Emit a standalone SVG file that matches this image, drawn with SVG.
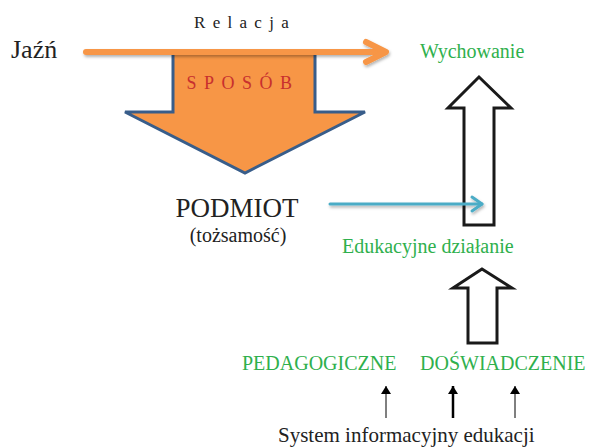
<svg xmlns="http://www.w3.org/2000/svg" width="593" height="448" viewBox="0 0 593 448">
  <defs>
    <filter id="sh" x="-10%" y="-50%" width="120%" height="200%">
      <feDropShadow dx="1" dy="2" stdDeviation="1.5" flood-color="#000" flood-opacity="0.3"/>
    </filter>
    <marker id="ah" viewBox="0 0 8 10" refX="8" refY="5" markerWidth="8" markerHeight="10" markerUnits="userSpaceOnUse" orient="auto">
      <path d="M0,0 L8,5 L0,10 Z" fill="#000"/>
    </marker>
  </defs>
  <style>
    text { font-family: "Liberation Serif", "Times New Roman", serif; }
    .blk { fill: #222; }
    .grn { fill: #2fb04d; }
    .hollow { fill: #fff; stroke: #1a1a1a; stroke-width: 3; stroke-linejoin: miter; }
  </style>
  <rect width="593" height="448" fill="#fff"/>

  <g id="sposob">
    <polygon points="173,52 173,112 125,112 245,173 365,112 315,112 315,52" fill="#f79646" stroke="#385d8a" stroke-width="3"/>
    <text x="243" y="89" text-anchor="middle" font-size="18" letter-spacing="7.5" fill="#c8302e">SPOSÓB</text>
  </g>

  <g id="jazn">
    <text x="11" y="58" font-size="26" class="blk">Jaźń</text>
  </g>
  <g id="relacja">
    <text x="194" y="28" font-size="17" letter-spacing="7.3" class="blk">Relacja</text>
  </g>
  <g id="wychowanie">
    <text x="420" y="58" font-size="20" class="grn">Wychowanie</text>
  </g>
  <g id="podmiot">
    <text x="237" y="217" text-anchor="middle" font-size="27" class="blk">PODMIOT</text>
    <text x="238" y="242" text-anchor="middle" font-size="20" class="blk">(tożsamość)</text>
  </g>
  <g id="edukacyjne">
    <text x="342" y="253" font-size="20" class="grn">Edukacyjne działanie</text>
  </g>
  <g id="pedagogiczne">
    <text x="242" y="370" font-size="20" class="grn">PEDAGOGICZNE</text>
  </g>
  <g id="doswiadczenie">
    <text x="420" y="370" font-size="20" class="grn">DOŚWIADCZENIE</text>
  </g>
  <g id="system">
    <text x="278" y="442" font-size="21" class="blk">System informacyjny edukacji</text>
  </g>

  <g id="connectors">
    <g filter="url(#sh)" fill="none" stroke-linecap="round" stroke-linejoin="round">
      <line x1="86" y1="52" x2="384" y2="52" stroke="#f79646" stroke-width="6"/>
      <polyline points="366,42 386,52 366,62" stroke="#f79646" stroke-width="6"/>
    </g>
    <polygon class="hollow" points="479,77 448,108 464,108 464,225 494,225 494,108 511,108"/>
    <g filter="url(#sh)" fill="none" stroke="#4bacc6" stroke-width="3" stroke-linecap="round" stroke-linejoin="round">
      <line x1="330" y1="204" x2="482" y2="204"/>
      <polyline points="472,197 482,204 472,211"/>
    </g>
    <polygon class="hollow" points="482,269 453,288 468,288 468,343 497,343 497,288 512,288"/>
    <line x1="386" y1="418" x2="386" y2="386" stroke="#000" stroke-width="1" marker-end="url(#ah)"/>
    <line x1="453" y1="418" x2="453" y2="386" stroke="#000" stroke-width="2.5" marker-end="url(#ah)"/>
    <line x1="515" y1="418" x2="515" y2="386" stroke="#000" stroke-width="1" marker-end="url(#ah)"/>
  </g>
</svg>
